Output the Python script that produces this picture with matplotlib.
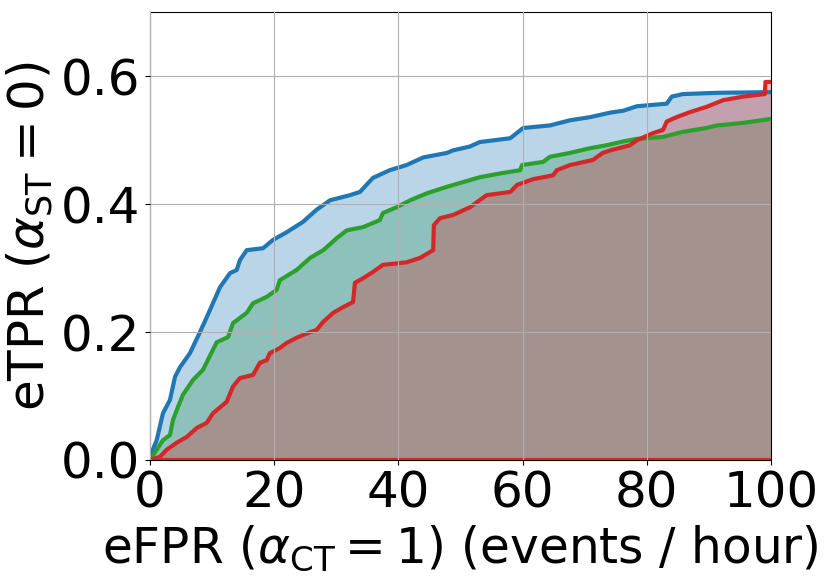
import matplotlib
matplotlib.use('Agg')
import matplotlib.pyplot as plt
import numpy as np

# curves (eFPR in events/hour, eTPR)
blue_x = [0, 1.08, 2.09, 3.22, 4.03, 4.83, 6.44, 8.05, 9.13, 10.14, 11.27, 12.88,
          13.96, 14.49, 15.57, 18.2, 19.8, 22.0, 24.6, 26.8, 29.0, 32.2, 33.8, 35.9,
          38.6, 41.3, 44.0, 47.8, 48.8, 51.5, 53.1, 58.0, 60.1, 64.4, 67.6, 70.9,
          74.1, 76.2, 78.4, 83.2, 84.0, 85.8, 88.6, 91.3, 99.8, 101]
blue_y = [0.005, 0.031, 0.073, 0.094, 0.130, 0.145, 0.167, 0.200, 0.223, 0.245, 0.270, 0.292,
          0.297, 0.3125, 0.328, 0.331, 0.344, 0.356, 0.372, 0.391, 0.406, 0.414, 0.419, 0.441,
          0.453, 0.461, 0.473, 0.480, 0.484, 0.490, 0.497, 0.503, 0.519, 0.523, 0.531, 0.536,
          0.543, 0.546, 0.553, 0.557, 0.568, 0.572, 0.573, 0.574, 0.575, 0.575]

green_x = [0, 1.08, 2.09, 3.22, 3.70, 4.51, 5.31, 6.92, 8.53, 10.74, 12.56, 13.37,
           15.57, 16.59, 18.79, 20.4, 20.9, 23.6, 25.8, 27.9, 30.1, 31.7, 34.3, 37.0,
           37.5, 39.7, 41.9, 44.6, 47.8, 51.5, 53.1, 56.4, 59.6, 59.9, 63.3, 64.4,
           67.6, 70.9, 73.5, 76.2, 78.4, 82.6, 85.8, 89.6, 91.3, 95.5, 97.7, 99.8, 101]
green_y = [0.0, 0.016, 0.031, 0.039, 0.0625, 0.083, 0.102, 0.125, 0.141, 0.184, 0.192, 0.214,
           0.230, 0.245, 0.255, 0.266, 0.281, 0.297, 0.316, 0.328, 0.347, 0.359, 0.364, 0.375,
           0.386, 0.395, 0.406, 0.417, 0.427, 0.4375, 0.442, 0.448, 0.453, 0.461, 0.466, 0.474,
           0.480, 0.4875, 0.492, 0.498, 0.502, 0.505, 0.513, 0.519, 0.523, 0.527, 0.530, 0.533, 0.533]

red_x = [0, 1.61, 2.69, 4.30, 5.91, 7.52, 9.13, 10.14, 12.35, 13.37, 14.49, 16.59,
         17.7, 18.8, 19.3, 20.9, 22.0, 23.6, 25.8, 26.8, 27.9, 29.5, 31.1, 32.7,
         33.0, 34.3, 35.9, 37.5, 41.3, 43.5, 45.6, 45.7, 46.7, 48.8, 51.5, 54.2,
         58.0, 59.1, 61.7, 64.9, 65.5, 67.6, 71.3, 72.9, 74.1, 77.3, 78.4, 81.0,
         82.6, 83.2, 84.8, 87.0, 89.6, 92.3, 95.5, 99.0, 99.1, 101]
red_y = [0.0, 0.005, 0.016, 0.027, 0.036, 0.050, 0.058, 0.073, 0.091, 0.115, 0.128, 0.133,
         0.152, 0.156, 0.167, 0.175, 0.183, 0.191, 0.200, 0.203, 0.216, 0.230, 0.239, 0.247,
         0.277, 0.284, 0.294, 0.305, 0.309, 0.316, 0.328, 0.367, 0.378, 0.383, 0.395, 0.414,
         0.419, 0.430, 0.439, 0.445, 0.453, 0.461, 0.469, 0.480, 0.484, 0.492, 0.500, 0.511,
         0.516, 0.529, 0.536, 0.544, 0.552, 0.5625, 0.568, 0.572, 0.591, 0.591]

plt.rcParams['font.size'] = 36

fig, ax = plt.subplots(figsize=(8.3, 5.81), dpi=100)
fig.subplots_adjust(left=0.1807, right=0.929, bottom=0.2083, top=0.979)

# fills first (green, blue, red), then the lines on top
ax.fill_between(green_x, green_y, color='tab:green', alpha=0.3, linewidth=0)
ax.fill_between(blue_x, blue_y, color='tab:blue', alpha=0.3, linewidth=0)
ax.fill_between(red_x, red_y, color='tab:red', alpha=0.3, linewidth=0)

ax.plot(blue_x, blue_y, color='tab:blue', linewidth=3)
ax.plot(green_x, green_y, color='tab:green', linewidth=3)
ax.plot(red_x, red_y, color='tab:red', linewidth=3)

# red curve also runs along the bottom
ax.axhline(0, color='tab:red', linewidth=3)

ax.set_xlim(0, 100)
ax.set_ylim(0, 0.7)
ax.set_xticks(np.arange(0, 101, 20))
ax.set_yticks([0.0, 0.2, 0.4, 0.6])
ax.grid(True)
ax.set_axisbelow(False)

ax.set_xlabel(r'eFPR ($\alpha_{\rm CT}=1$) (events / hour)', fontsize=35)
ax.set_ylabel(r'eTPR ($\alpha_{\rm ST}=0$)')

fig.savefig('out.png', dpi=100)
